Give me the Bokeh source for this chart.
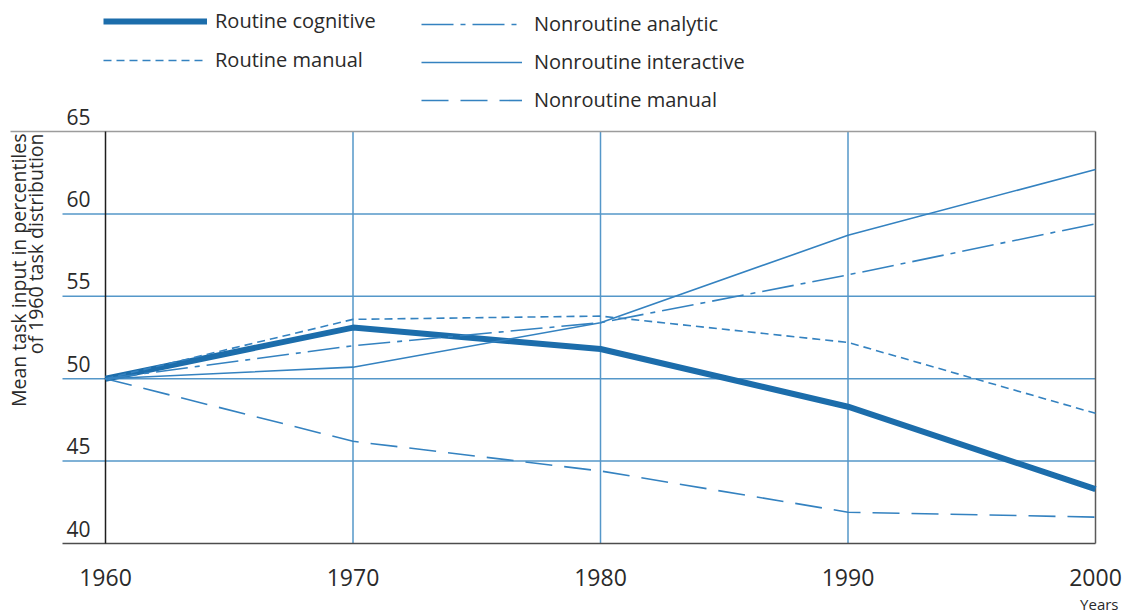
from bokeh.plotting import figure
from bokeh.models import (Range1d, FixedTicker, Label, LabelSet, Title,
                          ColumnDataSource, Legend, LegendItem)
from bokeh.core.properties import value
from bokeh.embed import file_html
from bokeh.resources import INLINE
import math

# ---- data ----
years = [1960, 1970, 1980, 1990, 2000]
routine_cognitive = [50.0, 53.1, 51.8, 48.3, 43.3]
routine_manual = [50.0, 53.6, 53.8, 52.2, 47.9]
nonroutine_analytic = [50.0, 52.0, 53.4, 56.3, 59.4]
nonroutine_interactive = [50.0, 50.7, 53.4, 58.7, 62.7]
nonroutine_manual = [50.0, 46.2, 44.4, 41.9, 41.6]

y_ticks = [40, 45, 50, 55, 60, 65]
y_tick_labels = ["40", "45", "50", "55", "60", "65"]
x_tick_labels = {1960: "1960", 1970: "1970", 1980: "1980", 1990: "1990", 2000: "2000"}
y_title_lines = ["Mean task input in percentiles", "of 1960 task distribution"]
x_title = "Years"

# ---- style / layout ----
FONT = "Open Sans"
TXT = "#2a2a2a"
LINE = "#3482c0"
THICK = "#1c6dab"
GRID = "#5597c9"

W, H = 1124, 616
PX_YR = 24.75          # pixels per year
PX_UNIT = 16.48        # pixels per y unit
X0_PX = 105            # canvas x of first year
YTOP_PX = 131          # canvas y of top tick
FRAME_BOTTOM = 548
FRAME_RIGHT = 1097

def dx(px):   # canvas px -> data x
    return years[0] + (px - X0_PX) / PX_YR

def dy(py):   # canvas py -> data y
    return y_ticks[-1] - (py - YTOP_PX) / PX_UNIT

p = figure(width=W, height=H, output_backend="svg", toolbar_location=None,
           x_range=Range1d(dx(0), dx(FRAME_RIGHT)),
           y_range=Range1d(dy(FRAME_BOTTOM), dy(0)),
           y_axis_location=None,
           min_border_left=0, min_border_top=0,
           min_border_right=W - FRAME_RIGHT, min_border_bottom=H - FRAME_BOTTOM)
p.outline_line_color = None
p.grid.visible = False
p.background_fill_color = "white"
p.border_fill_color = "white"

# x axis
xa = p.xaxis[0]
xa.ticker = FixedTicker(ticks=years)
xa.major_label_overrides = x_tick_labels
xa.axis_line_color = None
xa.major_tick_line_color = None
xa.minor_tick_line_color = None
xa.major_label_standoff = 14
xa.major_label_text_font = FONT
xa.major_label_text_font_size = "23px"
xa.major_label_text_color = TXT

# grid lines (from tick lists)
x_ext = dx(X0_PX - 43)
inner_y = y_ticks[1:-1]
p.segment(x0=[x_ext] * len(inner_y), x1=[years[-1]] * len(inner_y), y0=inner_y, y1=inner_y,
          line_color=GRID, line_width=1.5)
inner_x = years[1:-1]
p.segment(x0=inner_x, x1=inner_x, y0=[y_ticks[0]] * len(inner_x), y1=[y_ticks[-1]] * len(inner_x),
          line_color=GRID, line_width=1.5)
# frame lines
p.segment(x0=[dx(10)], x1=[years[-1]], y0=[y_ticks[-1]], y1=[y_ticks[-1]], line_color="#9c9c9c", line_width=1.5)
p.segment(x0=[x_ext], x1=[years[-1]], y0=[y_ticks[0]], y1=[y_ticks[0]], line_color="#4d4d4d", line_width=1.5)
p.segment(x0=[years[0]], x1=[years[0]], y0=[y_ticks[0]], y1=[y_ticks[-1]], line_color="#1e1e1e", line_width=1.5)
p.segment(x0=[years[-1]], x1=[years[-1]], y0=[y_ticks[0]], y1=[y_ticks[-1]], line_color="#5a5a5a", line_width=1.5)

# y tick labels
src = ColumnDataSource(dict(x=[years[0]] * len(y_ticks), y=y_ticks, t=y_tick_labels))
p.add_layout(LabelSet(x="x", y="y", text="t", source=src, x_offset=-15, y_offset=15,
                      text_align="right", text_baseline="middle",
                      text_font=value(FONT), text_font_size=value("21px"), text_color=TXT))

# series
r1 = p.line(years, routine_cognitive, line_color=THICK, line_width=6)
r2 = p.line(years, routine_manual, line_color=LINE, line_width=1.6, line_dash="8 5")
r3 = p.line(years, nonroutine_analytic, line_color=LINE, line_width=1.6, line_dash="32 7 5 7")
r4 = p.line(years, nonroutine_interactive, line_color=LINE, line_width=1.6)
r5 = p.line(years, nonroutine_manual, line_color=LINE, line_width=1.6, line_dash="27 12")

def mk_legend(items, loc, gw, standoff, spacing):
    return Legend(items=items, location=loc, orientation="vertical",
                  glyph_width=gw, glyph_height=24, label_height=24, spacing=spacing,
                  label_standoff=standoff, padding=0, margin=0,
                  border_line_color=None, background_fill_alpha=0,
                  label_text_font=FONT, label_text_font_size="20px",
                  label_text_color=TXT, label_text_baseline="middle")

leg1 = mk_legend([LegendItem(label="Routine cognitive", renderers=[r1]),
                  LegendItem(label="Routine manual", renderers=[r2])],
                 (103, FRAME_BOTTOM - 73), 104, 8, 12)
leg2 = mk_legend([LegendItem(label="Nonroutine analytic", renderers=[r3]),
                  LegendItem(label="Nonroutine interactive", renderers=[r4]),
                  LegendItem(label="Nonroutine manual", renderers=[r5])],
                 (421, FRAME_BOTTOM - 113), 101, 12, 11)
p.add_layout(leg1, "center")
p.add_layout(leg2, "center")

# y title (two lines, top-aligned, rotated)
for line_text, cx in zip(y_title_lines, [17.5, 34.5]):
    p.add_layout(Label(x=dx(cx), y=dy(133), text=line_text, angle=math.pi / 2,
                       text_align="right", text_baseline="middle",
                       text_font=FONT, text_font_size="19.5px", text_color=TXT))

# x title
p.add_layout(Title(text=x_title, align="right", offset=-21, standoff=6,
                   text_font=FONT, text_font_size="15px", text_font_style="normal",
                   text_color=TXT), "below")

open("out.html", "w").write(file_html(p, INLINE))
